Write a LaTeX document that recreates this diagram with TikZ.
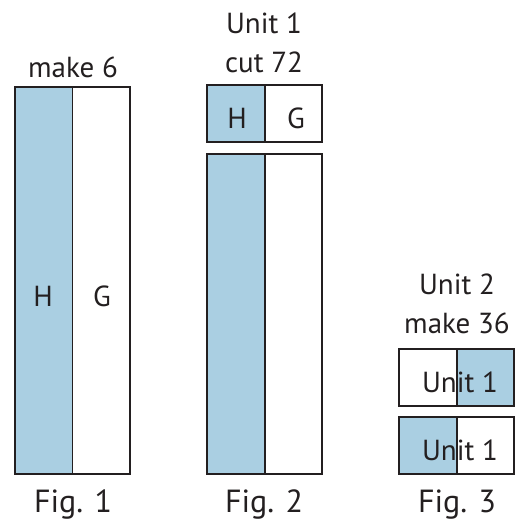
\documentclass[tikz,border=0pt]{standalone}
\usepackage{fontspec}
\setmainfont{PT Sans}
\definecolor{hblue}{RGB}{170,207,226}
\definecolor{ink}{RGB}{35,31,32}
\tikzset{
  strip/.style={draw=ink, line width=1.3pt},
  txt/.style={text=ink, inner sep=0pt, anchor=base, font=\fontsize{29}{34}\selectfont},
  figtxt/.style={txt, font=\fontsize{32}{38}\selectfont}
}

\begin{document}
\begin{tikzpicture}[x=1pt,y=-1pt]
                \useasboundingbox (0,0) rectangle (523,523);
                % Fig. 1
                \coordinate (A1) at (15,87);
                \coordinate (M1) at (72.5,87);
                \coordinate (N1) at (72.5,474);
                \coordinate (C1) at (130,474);
                \fill[hblue] (A1) rectangle (N1);
                \draw[strip] (A1) rectangle (C1);
                \draw[strip] (M1) -- (N1);
                \node[txt] (make6) at (73,77) {make 6};
                \node[txt] (h1) at (43,306) {H};
                \node[txt] (g1) at (102,306) {G};
                \node[figtxt] (fig1) at (73,512) {Fig. 1};
                % Fig. 2
                \coordinate (A2) at (207,85);
                \coordinate (M2) at (265,85);
                \coordinate (N2) at (265,142);
                \coordinate (C2) at (322,142);
                \fill[hblue] (A2) rectangle (N2);
                \draw[strip] (A2) rectangle (C2);
                \draw[strip] (M2) -- (N2);
                \coordinate (A3) at (207,154);
                \coordinate (M3) at (265,154);
                \coordinate (N3) at (265,474);
                \coordinate (C3) at (322,474);
                \fill[hblue] (A3) rectangle (N3);
                \draw[strip] (A3) rectangle (C3);
                \draw[strip] (M3) -- (N3);
                \node[txt] (unit1) at (264,33) {Unit 1};
                \node[txt] (cut72) at (264,72) {cut 72};
                \node[txt] (h2) at (237,128) {H};
                \node[txt] (g2) at (296,128) {G};
                \node[figtxt] (fig2) at (264,512) {Fig. 2};
                % Fig. 3
                \coordinate (A4) at (399,349);
                \coordinate (M4) at (457,349);
                \coordinate (N4) at (457,406);
                \coordinate (C4) at (514,406);
                \fill[hblue] (M4) rectangle (C4);
                \draw[strip] (A4) rectangle (C4);
                \draw[strip] (M4) -- (N4);
                \coordinate (A5) at (399,417);
                \coordinate (M5) at (457,417);
                \coordinate (N5) at (457,474);
                \coordinate (C5) at (514,474);
                \fill[hblue] (A5) rectangle (N5);
                \draw[strip] (A5) rectangle (C5);
                \draw[strip] (M5) -- (N5);
                %\draw[red] (A4) -- (C5);
                \node[txt] (unit2) at (457,294) {Unit 2};
                \node[txt] (make36) at (457,333) {make 36};
                \node[txt] (u1top) at (460,392) {Unit 1};
                \node[txt] (u1bot) at (460,460) {Unit 1};
                \node[figtxt] (fig3) at (457,512) {Fig. 3};
            \end{tikzpicture}
\end{document}
